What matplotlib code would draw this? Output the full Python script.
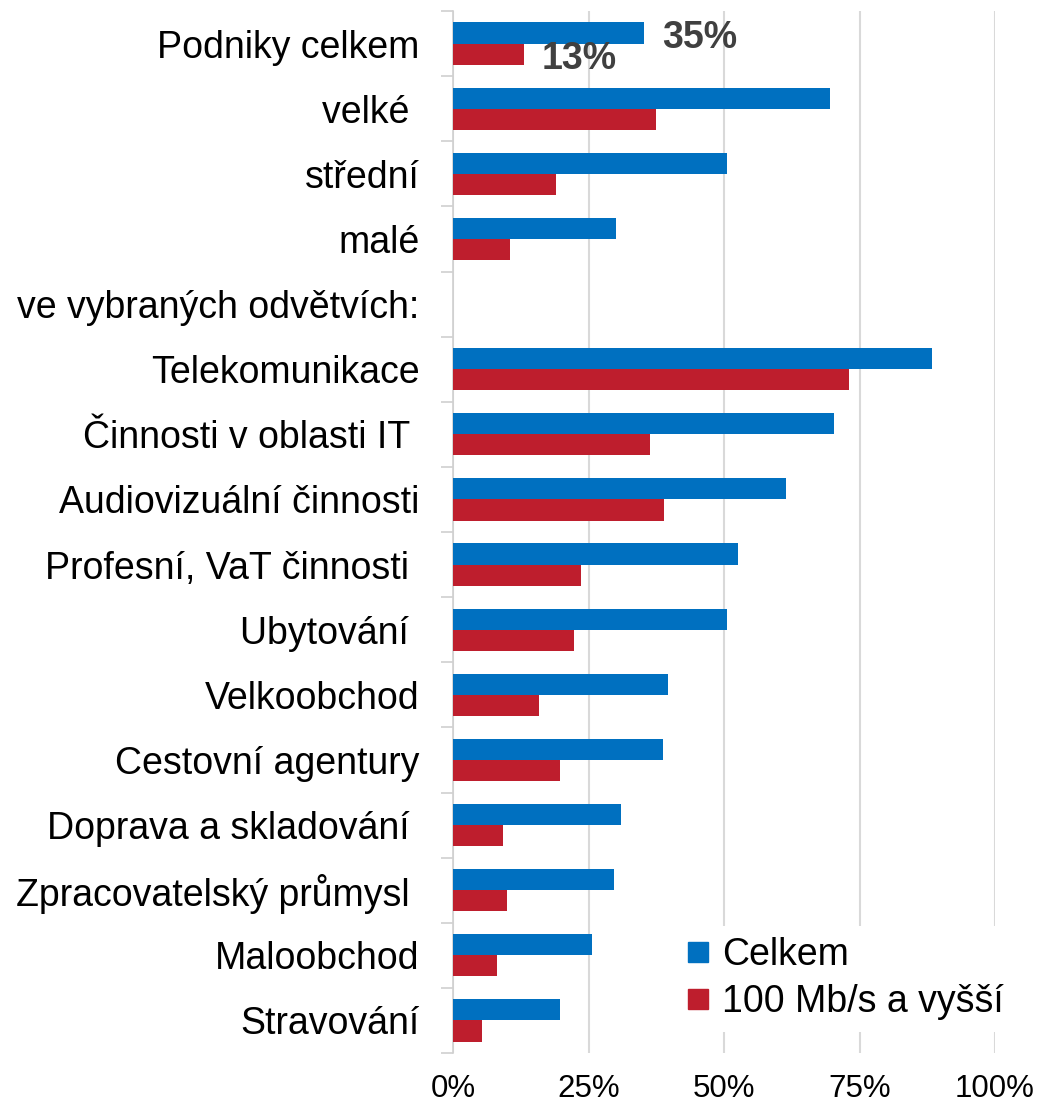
import matplotlib
matplotlib.use("Agg")
import matplotlib.pyplot as plt
import numpy as np
from matplotlib.lines import Line2D

plt.rcParams['font.family'] = ['Liberation Sans', 'DejaVu Sans']

categories = [
    "Podniky celkem", "velké ", "střední", "malé", "ve vybraných odvětvích:",
    "Telekomunikace", "Činnosti v oblasti IT ", "Audiovizuální činnosti",
    "Profesní, VaT činnosti ", "Ubytování ", "Velkoobchod", "Cestovní agentury",
    "Doprava a skladování ", "Zpracovatelský průmysl ", "Maloobchod", "Stravování",
]
celkem = [35.2, 69.6, 50.6, 30.1, np.nan, 88.3, 70.3, 61.4, 52.6, 50.6, 39.7, 38.7, 31.0, 29.7, 25.6, 19.7]
vysoke = [13.1, 37.5, 19.0, 10.5, np.nan, 73.0, 36.3, 38.9, 23.6, 22.3, 15.9, 19.7, 9.2, 10.0, 8.1, 5.4]
series_names = ["Celkem", "100 Mb/s a vyšší"]
xticks = [0, 25, 50, 75, 100]
xticklabels = ["0%", "25%", "50%", "75%", "100%"]
annot = [("35%", 35.2), ("13%", 13.1)]

blue = "#0070C0"
red = "#BE1E2D"

W, H = 1039, 1105
fig = plt.figure(figsize=(W / 100, H / 100), dpi=100)
ax = fig.add_axes([453 / W, 1 - 1053 / H, (995 - 453) / W, (1053 - 11) / H])

y = np.arange(len(categories))
h = 0.325
ax.barh(y - h / 2, celkem, height=h, color=blue, zorder=3)
ax.barh(y + h / 2, vysoke, height=h, color=red, zorder=3)

ax.set_xlim(0, 100)
ax.set_ylim(len(categories) - 0.5, -0.5)
ax.set_xticks(xticks)
ax.set_xticklabels(xticklabels, fontsize=22.5)
ax.set_yticks(y)
ax.set_yticklabels(categories, fontsize=27)
ax.tick_params(axis='y', which='major', length=0, pad=24)
ax.set_yticks(np.arange(len(categories) + 1) - 0.5, minor=True)
ax.tick_params(axis='y', which='minor', length=9, width=1.2, color='#d0d0d0')
ax.tick_params(axis='x', length=0, pad=15)

ax.grid(axis='x', color='#d9d9d9', linewidth=1.5, zorder=0)
for s in ['top', 'right', 'bottom']:
    ax.spines[s].set_visible(False)
ax.spines['left'].set_color('#d0d0d0')
ax.spines['left'].set_linewidth(1.2)

# data labels for the first row
ax.text(38.6, 0.073, annot[0][0], fontsize=27, fontweight='bold', color='#404040', ha='left', va='baseline', zorder=5)
ax.text(16.4, 0.391, annot[1][0], fontsize=27, fontweight='bold', color='#404040', ha='left', va='baseline', zorder=5)

handles = [Line2D([], [], marker='s', linestyle='none', markersize=14, color=blue),
           Line2D([], [], marker='s', linestyle='none', markersize=14, color=red)]
leg = ax.legend(handles, series_names, fontsize=27, loc='upper left',
                bbox_to_anchor=(653 / W, 1 - 907 / H), bbox_transform=fig.transFigure,
                frameon=True, facecolor='white', edgecolor='none', framealpha=1,
                handlelength=0.8, handletextpad=0.25, labelspacing=0.3, borderpad=0.3)
leg.set_zorder(10)

fig.savefig("out.png", dpi=100)
